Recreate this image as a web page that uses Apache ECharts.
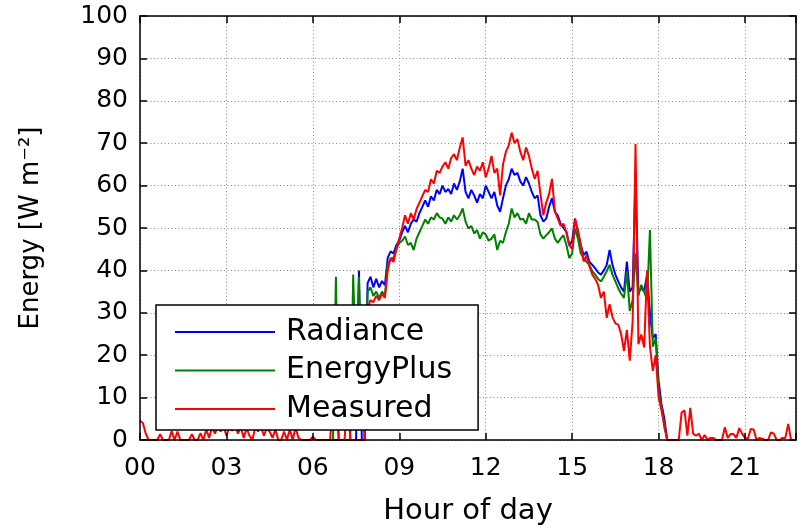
<!DOCTYPE html>
<html><head><meta charset="utf-8">
<script src="https://cdn.jsdelivr.net/npm/echarts@6/dist/echarts.min.js"></script>
<style>html,body{margin:0;padding:0;background:#fff}#c{width:799px;height:531px}</style>
</head><body><div id="c"></div>
<script>
// Hour-of-day axis
const xTicks = [0, 3, 6, 9, 12, 15, 18, 21];
const xTickLabels = ['00', '03', '06', '09', '12', '15', '18', '21'];
const xMax = 22.77;
const yTicks = [0, 10, 20, 30, 40, 50, 60, 70, 80, 90, 100];
const seriesNames = ['Radiance', 'EnergyPlus', 'Measured'];

// sampling: 0.1 h
const stepHour = 0.1;
const measuredStart = 0.0;
const simStart = 6.5;

// Measured, 0.0 h .. 22.7 h
const measured = [
  4.5,4.0,1.5,0,0,0,0,1.4,0,0,
  0,2.1,0,2.0,0,0,0,0,1.4,0,
  0,1.6,0,2.5,0.5,3.0,1.5,3.2,2.0,3.3,
  1.0,3.0,2.2,3.3,1.5,3.0,0.5,2.8,1.0,0,
  3.0,2.0,3.2,1.0,2.8,2.0,0.5,2.5,0,0,
  2.0,0,2.6,0,3.0,0.5,0,0,0,0,
  0.8,0,0,0,0,
  0,0,10,8,0,
  0,0,10,0,0,0,0,0,0,31,
  33,32.5,34,33,34.5,33.5,40,43,42,45,
  47.5,50,53,51,53.5,52,54.5,56,57.5,59,
  58.5,61.5,60.5,63.5,63,64.5,65.5,64,66.5,67.4,
  66,69,71.4,64.7,66,64,62.5,64.5,63.5,65.5,
  62,64,67,63,64,57.7,65,68,69.5,72.5,
  70,71,68,66,69,67,64,61.6,63.5,58,
  53,56,58,61.6,54,52.2,50.5,51,49,46,
  45,52.2,49.5,46,42.1,43.5,41,39,38,36.6,
  33.5,35,28.8,32,29,27.5,27.2,25,21,26,
  18.7,28,69.8,22.6,24.9,21.8,40,22,16.3,20,
  10.1,7.0,3.8,0,0,0,
  0,0,6.5,7,
  1,7.6,1.5,1,1.5,0,1.2,0,0.5,0.5,
  0,0,0,3,0.5,1.4,1.4,0.5,2.8,1.5,
  0.5,0.3,2.6,2.5,0,0.5,0.3,0,0,1.8,
  1.5,0,0,0.5,0.5,3.8,0,0
];

// Radiance, 6.5 h .. 18.5 h
const radiance = [
  0,0,0,0,0,
  0,0,0,0,0,0,40,0,0,37,
  38.5,36,38,36,37.5,36.5,43,44.5,44,46,
  47,49,50.5,49,51,52,51.5,53.5,55,56.5,
  55,57.5,56.5,59,58,60,58.5,59.2,58,60.5,
  59,61,64,58.5,57,59,57.7,56,58,57,
  60,58.5,57,58.5,55.3,53.8,57,60,61.5,64,
  62.5,63,61,60,62,60.5,58.5,57,57.7,53,
  51.5,52.2,55,57,53.8,53,51,50,49.1,45.9,
  47,52.2,49.1,46,43.6,44.4,42,41.3,40.5,39.5,
  39,40,41.3,44.8,41.3,39,37.4,36,35,42.1,
  35,36,62,35,35.8,35,39,30,24,25,
  14,8.5,5,0,0,0
];

// EnergyPlus, 6.5 h .. 18.5 h
const energyPlus = [
  0,0,0,38.5,0,
  0,0,0,0,39,15,38.5,10,0,35,
  36,34,35,33.5,35,34,41.5,42.5,43,45,
  46.5,47,48,46,46.5,44.8,47.5,49,50.5,52,
  51,52.5,52,53.5,52.5,52.2,51,52.5,51.5,53,
  52,53,54.6,51.5,49.9,50.5,48.7,49.5,47.5,49,
  48.5,47,47.5,48.5,44.8,47,46.5,49,51,54.6,
  52.5,53.5,52,52.2,51,53.5,52,52,51.4,48.5,
  47.5,48.3,49,49.9,47.5,46.5,47.5,48.3,46,42.9,
  44,49.9,47.5,44,42.9,42,41.3,39.8,39,38,
  37.4,38.5,39.8,41.3,39,37.4,35.8,34.5,33.5,39.8,
  30.4,33,44,34,36.6,35,33,49.5,22,24,
  12,7.7,3,0,0,0
];

function toPairs(start, step, vals) {
  return vals.map((v, i) => [Math.round((start + i * step) * 100) / 100, v]);
}

const FONT = "'DejaVu Sans', sans-serif";
const chart = echarts.init(document.getElementById('c'), null, {renderer: 'canvas'});

const tickStyle = {show: true, inside: true, length: 7, lineStyle: {color: '#000', width: 1.5}};
const lineAx = {show: true, onZero: false, lineStyle: {color: '#000', width: 1.5}};
const gridLine = {show: true, lineStyle: {color: '#8a8a8a', width: 1, type: [1, 2.5]}};

chart.setOption({
  animation: false,
  backgroundColor: '#fff',
  grid: {left: 140, right: 1, top: 16, bottom: 88},
  xAxis: [
    {
      type: 'value', position: 'bottom', min: 0, max: xMax, interval: 3, z: 5,
      axisLine: lineAx, axisTick: tickStyle,
      axisLabel: {
        margin: 16, fontFamily: FONT, fontSize: 25, color: '#000',
        formatter: v => { const i = xTicks.indexOf(v); return i >= 0 ? xTickLabels[i] : ''; }
      },
      splitLine: {show: false},
      name: 'Hour of day', nameLocation: 'middle', nameGap: 57,
      nameTextStyle: {fontFamily: FONT, fontSize: 29, color: '#000'}
    },
    {
      type: 'value', position: 'top', min: 0, max: xMax, interval: 3,
      axisLine: lineAx, axisTick: tickStyle, axisLabel: {show: false},
      splitLine: gridLine
    }
  ],
  yAxis: [
    {
      type: 'value', position: 'left', min: yTicks[0], max: yTicks[yTicks.length - 1], interval: 10, z: 5,
      axisLine: lineAx, axisTick: tickStyle,
      axisLabel: {margin: 12, fontFamily: FONT, fontSize: 25, color: '#000'},
      splitLine: {show: false},
      name: 'Energy [W m\u207B\u00B2]', nameLocation: 'middle', nameGap: 96,
      nameTextStyle: {fontFamily: FONT, fontSize: 26, color: '#000'}
    },
    {
      type: 'value', position: 'right', min: yTicks[0], max: yTicks[yTicks.length - 1], interval: 10,
      axisLine: lineAx, axisTick: tickStyle, axisLabel: {show: false},
      splitLine: gridLine
    }
  ],
  legend: {
    left: 156, top: 305, orient: 'vertical',
    data: seriesNames, icon: 'rect',
    itemWidth: 100, itemHeight: 2, itemGap: 8.5,
    padding: [12, 26, 6, 19],
    backgroundColor: '#fff', borderColor: '#000', borderWidth: 1.5, borderRadius: 0,
    textStyle: {fontFamily: FONT, fontSize: 30, color: '#000', lineHeight: 30, padding: [0, 0, 0, 6]}
  },
  series: [
    {name: seriesNames[0], type: 'line', symbol: 'none', color: '#0000ff',
     lineStyle: {width: 2, color: '#0000ff'}, data: toPairs(simStart, stepHour, radiance)},
    {name: seriesNames[1], type: 'line', symbol: 'none', color: '#008000',
     lineStyle: {width: 2, color: '#008000'}, data: toPairs(simStart, stepHour, energyPlus)},
    {name: seriesNames[2], type: 'line', symbol: 'none', color: '#ff0000',
     lineStyle: {width: 2, color: '#ff0000'}, data: toPairs(measuredStart, stepHour, measured)}
  ]
});
</script></body></html>
